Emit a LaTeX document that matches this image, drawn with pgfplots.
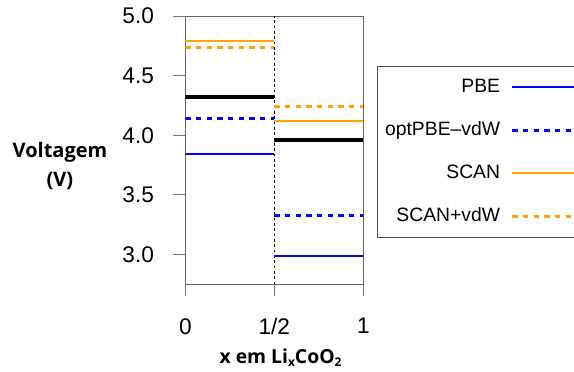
\documentclass[border=0pt]{standalone}
\usepackage{fontspec}
\setmainfont{Liberation Sans}
\newfontfamily\labelfont{Open Sans}
\usepackage{pgfplots}
\pgfplotsset{compat=1.18}
\definecolor{rorange}{HTML}{FFA500}
\definecolor{rblue}{HTML}{0000FF}
\begin{document}
\begin{tikzpicture}
\begin{axis}[
  at={(138.98pt,65.03pt)}, anchor=south west,
  scale only axis, width=133.5pt, height=201.2pt,
  xmin=0, xmax=1, ymin=2.75, ymax=5.0,
  xtick={0,0.5,1}, xticklabels={0,1/2,1},
  ytick={3.0,3.5,4.0,4.5,5.0},
  yticklabel style={xshift=-11pt, /pgf/number format/fixed, /pgf/number format/fixed zerofill, /pgf/number format/precision=1},
  xticklabel style={yshift=-13pt},
  /pgf/number format/assume math mode=true,
  tick label style={font=\fontsize{17}{20}\selectfont},
  tick pos=left, tick align=outside, major tick length=9pt,
  every tick/.style={black!55, line width=0.6pt},
  axis line style={black!60, line width=0.6pt},
  unbounded coords=jump,
  every axis y label/.style={at={(axis description cs:-0.704,0.44)}, anchor=center, align=center,
     font=\labelfont\bfseries\fontsize{15}{22}\selectfont},
  every axis x label/.style={at={(axis description cs:0.535,-0.272)}, anchor=center,
     font=\labelfont\bfseries\fontsize{14.5}{18}\selectfont},
  ylabel={Voltagem\\(V)},
  xlabel={x em Li\raisebox{-0.15em}{\fontsize{9}{10}\selectfont x}CoO\raisebox{-0.15em}{\fontsize{9}{10}\selectfont 2}},
  legend plot pos=right, legend cell align=right,
  legend image code/.code={\draw[#1] (0pt,0pt) -- (60pt,0pt);},
  legend style={at={(1.0753,0.8148)}, anchor=north west, draw=black!70, line width=0.6pt,
     font=\fontsize{14.5}{17}\selectfont, inner xsep=4pt, inner ysep=7.5pt,
     row sep=15.25pt, column sep=6pt,
     nodes={inner sep=2pt, text height=10pt, text depth=3pt}},
]
\addplot[black, line width=0.5pt, dash pattern=on 2pt off 2pt, forget plot] coordinates {(0.5,2.75) (0.5,5.0)};
\addplot[black, line width=3pt, forget plot] coordinates {(0,4.32) (0.5,4.32) (0.5,nan) (0.5,3.96) (1,3.96)};
\addplot[rblue, line width=1.5pt] coordinates {(0,3.84) (0.5,3.84) (0.5,nan) (0.5,2.99) (1,2.99)};
\addplot[rblue, line width=2.25pt, dash pattern=on 4pt off 4pt] coordinates {(0,4.14) (0.5,4.14) (0.5,nan) (0.5,3.33) (1,3.33)};
\addplot[rorange, line width=1.5pt] coordinates {(0,4.79) (0.5,4.79) (0.5,nan) (0.5,4.12) (1,4.12)};
\addplot[rorange, line width=2.25pt, dash pattern=on 4pt off 4pt] coordinates {(0,4.74) (0.5,4.74) (0.5,nan) (0.5,4.24) (1,4.24)};
\legend{PBE, optPBE–vdW, SCAN, SCAN+vdW}
\end{axis}
\pgfresetboundingbox
\useasboundingbox (0,0) rectangle (430.5pt,278.25pt);
\end{tikzpicture}
\end{document}
